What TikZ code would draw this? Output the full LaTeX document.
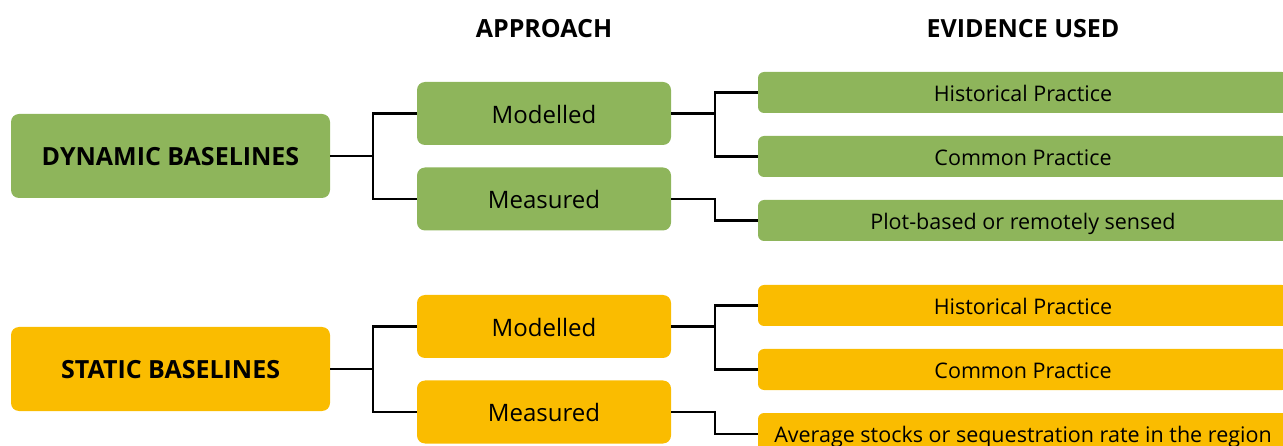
\documentclass[tikz,border=0pt]{standalone}
\usepackage{fontspec}
\setmainfont{Open Sans}
\begin{document}
\begin{tikzpicture}[x=1pt,y=-1pt,
  every node/.style={inner sep=0pt, text=black, text depth=0pt},
  mainbox/.style={rounded corners=8pt, minimum width=319pt, minimum height=84pt, text height=20pt, font=\fontsize{25}{29}\selectfont\bfseries},
  appbox/.style={rounded corners=8pt, minimum width=254pt, minimum height=63pt, text height=19.5pt, font=\fontsize{24}{28}\selectfont},
  evbox/.style={rounded corners=6pt, minimum width=530pt, minimum height=41pt, text height=17.5pt, font=\fontsize{21.5}{25}\selectfont},
  head/.style={text height=17.9pt, font=\fontsize{25}{29}\selectfont\bfseries},
  link/.style={line width=2.2pt, draw=black},
  dyn/.style={fill=dyngreen},
  sta/.style={fill=staticyellow}]
\definecolor{dyngreen}{HTML}{8EB55B}
\definecolor{staticyellow}{HTML}{FABC00}
\useasboundingbox (0,0) rectangle (1283,446);
\clip (0,0) rectangle (1283,446);

% column headings
\node[head] (h1) at (544,29) {APPROACH};
\node[head] (h2) at (1023,29) {EVIDENCE USED};

% dynamic baselines
\node[mainbox,dyn] (dyn) at (170.5,156) {DYNAMIC BASELINES};
\node[appbox,dyn] (dmod) at (544,113.5) {Modelled};
\node[appbox,dyn] (dmeas) at (544,199) {Measured};
\node[evbox,dyn] (dhist) at (1023,92.5) {Historical Practice};
\node[evbox,dyn] (dcomm) at (1023,156.5) {Common Practice};
\node[evbox,dyn] (dplot) at (1023,220.5) {Plot-based or remotely sensed};

% static baselines
\node[mainbox,sta] (sta) at (170.5,369) {STATIC BASELINES};
\node[appbox,sta] (smod) at (544,326.5) {Modelled};
\node[appbox,sta] (smeas) at (544,412) {Measured};
\node[evbox,sta] (shist) at (1023,305.5) {Historical Practice};
\node[evbox,sta] (scomm) at (1023,369.5) {Common Practice};
\node[evbox,sta,minimum height=42pt] (savg) at (1023,434) {Average stocks or sequestration rate in the region};

% bracket connectors
\draw[link] (dyn.east) -- ++(43,0) |- (dmod.west);
\draw[link] (dyn.east) -- ++(43,0) |- (dmeas.west);
\draw[link] (dmod.east) -- ++(44,0) |- (dhist.west);
\draw[link] (dmod.east) -- ++(44,0) |- (dcomm.west);
\draw[link] (dmeas.east) -- ++(44,0) |- (dplot.west);

\draw[link] (sta.east) -- ++(43,0) |- (smod.west);
\draw[link] (sta.east) -- ++(43,0) |- (smeas.west);
\draw[link] (smod.east) -- ++(44,0) |- (shist.west);
\draw[link] (smod.east) -- ++(44,0) |- (scomm.west);
\draw[link] (smeas.east) -- ++(44,0) |- (savg.west);
\end{tikzpicture}
\end{document}
